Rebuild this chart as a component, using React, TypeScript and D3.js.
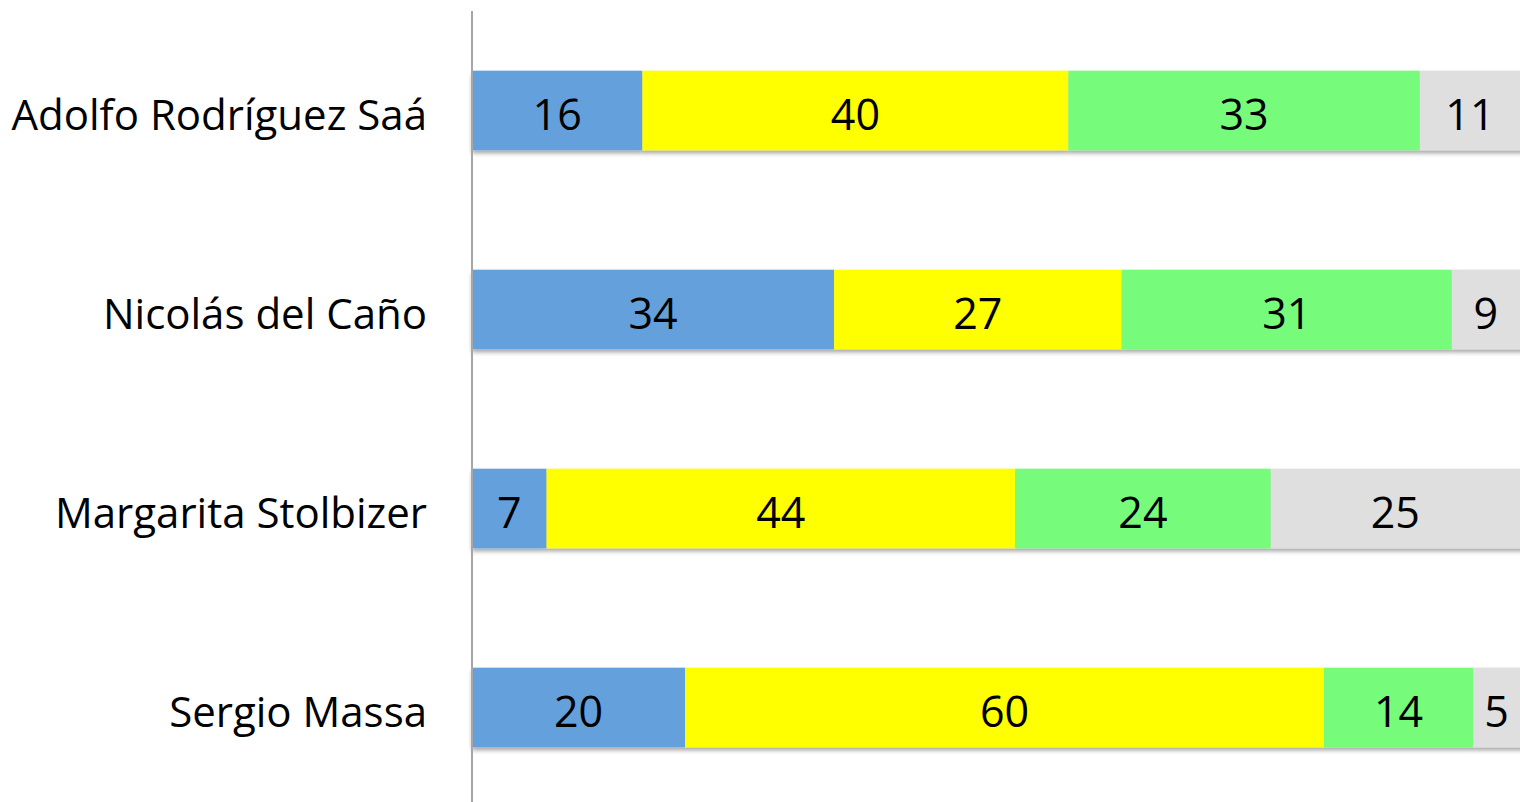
import React, { useRef, useEffect } from 'react';
import * as d3 from 'd3';

const candidates = ['Adolfo Rodríguez Saá', 'Nicolás del Caño', 'Margarita Stolbizer', 'Sergio Massa'];
const seriesKeys = ['s1', 's2', 's3', 's4'];
const seriesColors = ['#63a0dc', '#ffff00', '#76fc7a', '#dfdfdf'];
const s1 = [16, 34, 7, 20];
const s2 = [40, 27, 44, 60];
const s3 = [33, 31, 24, 14];
const s4 = [11, 9, 25, 5];

const App = () => {
  const svgRef = useRef<SVGSVGElement>(null);

  useEffect(() => {
    document.body.style.margin = '0';
    document.body.style.overflow = 'hidden';

    const width = 1520;
    const height = 802;
    const margin = { top: 11, right: -17, bottom: -5, left: 472 };

    const svg = d3.select(svgRef.current)
      .attr('width', width)
      .attr('height', height)
      .style('background', 'white');
    svg.selectAll('*').remove();

    const defs = svg.append('defs');
    const filter = defs.append('filter').attr('id', 'shadow')
      .attr('x', '-5%').attr('y', '-20%').attr('width', '110%').attr('height', '150%');
    filter.append('feDropShadow')
      .attr('dx', 0).attr('dy', 3).attr('stdDeviation', 2)
      .attr('flood-color', '#000').attr('flood-opacity', 0.35);

    const rows = candidates.map((name, i) => ({ name, s1: s1[i], s2: s2[i], s3: s3[i], s4: s4[i] }));
    const stacked = d3.stack<any>().keys(seriesKeys)(rows);

    const x = d3.scaleLinear().domain([0, 100]).range([margin.left, width - margin.right]);
    const y = d3.scaleBand().domain(candidates)
      .range([margin.top, height - margin.bottom])
      .paddingInner(0.6)
      .paddingOuter(0.3);

    // bars
    const rowGroups = svg.append('g');
    candidates.forEach((name, i) => {
      const g = rowGroups.append('g').attr('filter', 'url(#shadow)');
      stacked.forEach((layer, k) => {
        const d = layer[i];
        g.append('rect')
          .attr('x', x(d[0]))
          .attr('y', y(name)!)
          .attr('width', x(d[1]) - x(d[0]))
          .attr('height', y.bandwidth())
          .attr('fill', seriesColors[k]);
      });
    });

    // value labels
    stacked.forEach((layer) => {
      layer.forEach((d, i) => {
        const v = d[1] - d[0];
        const x0 = x(d[0]);
        const x1 = Math.min(x(d[1]), width);
        svg.append('text')
          .attr('x', (x0 + x1) / 2)
          .attr('y', y(candidates[i])! + y.bandwidth() / 2 + 4)
          .attr('dy', '0.36em')
          .attr('text-anchor', 'middle')
          .attr('fill', 'black')
          .style('font-family', '"Open Sans", sans-serif')
          .style('font-size', '43px')
          .text(v);
      });
    });

    // axis line
    svg.append('line')
      .attr('x1', margin.left).attr('x2', margin.left)
      .attr('y1', margin.top).attr('y2', height)
      .attr('stroke', '#a6a6a6')
      .attr('stroke-width', 2);

    // category labels
    candidates.forEach(name => {
      svg.append('text')
        .attr('x', 427)
        .attr('y', y(name)! + y.bandwidth() / 2 + 4)
        .attr('dy', '0.36em')
        .attr('text-anchor', 'end')
        .attr('fill', 'black')
        .style('font-family', '"Open Sans", sans-serif')
        .style('font-size', '42px')
        .text(name);
    });
  }, []);

  return (
    <div>
      <svg ref={svgRef} style={{ display: 'block' }}></svg>
    </div>
  );
};

export default App;
